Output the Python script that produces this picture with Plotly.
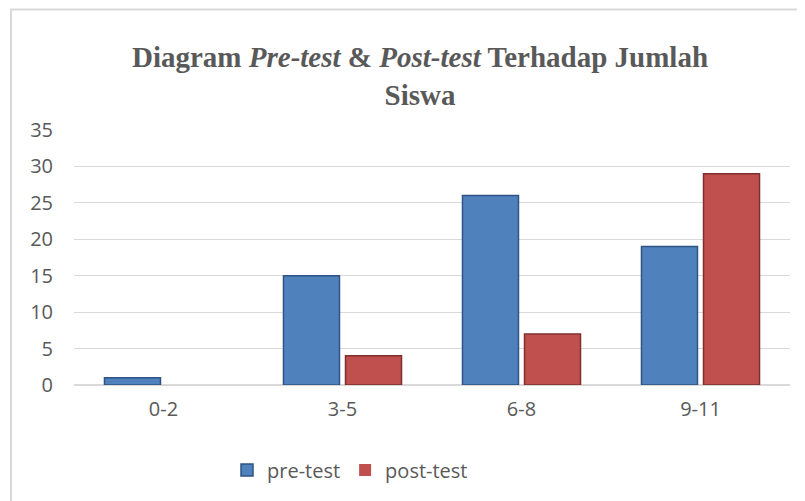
import plotly.graph_objects as go

categories = ["0-2", "3-5", "6-8", "9-11"]
pre_test = [1, 15, 26, 19]
post_test = [0, 4, 7, 29]
y_ticks = [0, 5, 10, 15, 20, 25, 30, 35]

TICK_FONT = dict(family="Open Sans, Noto Sans, sans-serif", size=20, color="#595959")

# page body has 8px margin; figure is drawn offset by it
OFF = 8
W, H = 805 - OFF, 501 - OFF
L, R, T, B = 74 - OFF, 15, 130 - OFF, 116
pw, ph = W - L - R, H - T - B


def px_x(p):  # screen pixel -> paper x
    return (p - OFF - L) / pw


def px_y(p):  # screen pixel -> paper y
    return (H - B - (p - OFF)) / ph


def widths(vals, w):
    return [w if v > 0 else 0 for v in vals]


fig = go.Figure()
fig.add_trace(go.Bar(
    name="pre-test", x=categories, y=pre_test,
    marker=dict(color="#4f81bd", line=dict(color="#2f5383", width=widths(pre_test, 1.5))),
))
fig.add_trace(go.Bar(
    name="post-test", x=categories, y=post_test,
    marker=dict(color="#c0504d", line=dict(color="#7f2f2d", width=widths(post_test, 1.5))),
))

fig.update_layout(
    width=W, height=H,
    margin=dict(l=L, r=R, t=T, b=B, autoexpand=False),
    paper_bgcolor="white", plot_bgcolor="white",
    barmode="group", bargap=0.307, bargroupgap=0.097,
    title=dict(
        text="<b>Diagram <i>Pre-test</i> &amp; <i>Post-test</i> Terhadap Jumlah<br>Siswa</b>",
        font=dict(family="Liberation Serif, Times New Roman, serif", size=29, color="#595959"),
        x=(420 - OFF) / W, xref="container", xanchor="center",
        y=1 - (67 - OFF) / H, yref="container", yanchor="top",
    ),
    xaxis=dict(
        showgrid=False, showline=False, zeroline=False,
        tickfont=TICK_FONT, ticks="", ticklabelstandoff=10,
    ),
    yaxis=dict(
        range=[0, 35], tickvals=y_ticks, showgrid=True, gridcolor="#d9d9d9", gridwidth=1,
        zeroline=True, zerolinecolor="#d9d9d9", zerolinewidth=1.5,
        showline=False, tickfont=TICK_FONT, ticks="", ticklabelstandoff=20,
    ),
    legend=dict(
        orientation="h", x=px_x(350), xanchor="center", y=px_y(470), yanchor="middle",
        font=TICK_FONT, itemwidth=30, traceorder="normal",
    ),
    showlegend=True,
    shapes=[dict(
        type="rect", xref="paper", yref="paper",
        x0=px_x(11), x1=px_x(830), y0=px_y(530), y1=px_y(9.5),
        line=dict(color="#d9d9d9", width=2), fillcolor="rgba(0,0,0,0)", layer="below",
    )],
)

fig.write_html("out.html")
